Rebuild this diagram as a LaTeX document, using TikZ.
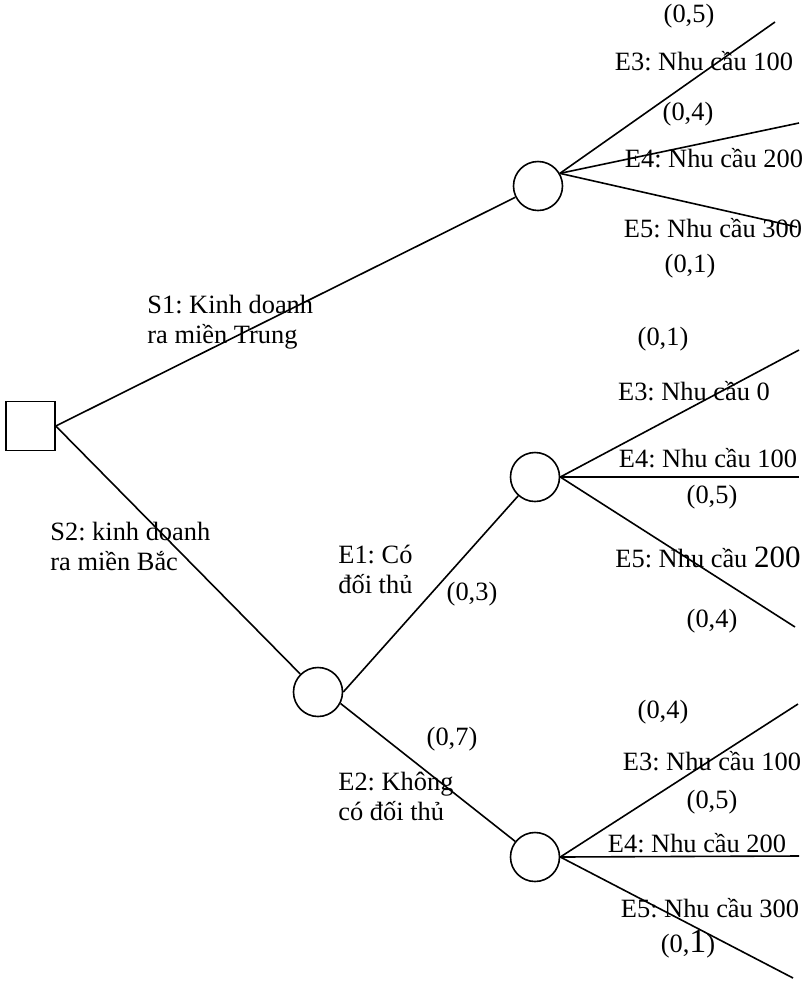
\documentclass[tikz,border=0pt]{standalone}
\usepackage{fontspec}
\setmainfont{Liberation Serif}
\frenchspacing
\tikzset{
	decision/.style={draw, rectangle, minimum size=24.5pt, inner sep=0pt, line width=0.8pt},
	chance/.style={draw, circle, minimum size=24.5pt, inner sep=0pt, line width=0.8pt},
	branch/.style={line width=0.8pt},
	lbl/.style={inner sep=0pt, anchor=base, font=\fontsize{13.2}{15}\selectfont},
	lbll/.style={lbl, anchor=base west, align=left},
}
\begin{document}
\begin{tikzpicture}[x=0.5pt, y=-0.5pt]
	\useasboundingbox (0,0) rectangle (808,981);

	\node[decision] (sq) at (30.5,426) {};
	\node[chance] (c1) at (538,186) {};
	\node[chance] (c2) at (318,692) {};
	\node[chance] (c3) at (535,477) {};
	\node[chance] (c4) at (535,857) {};

	\coordinate (t1) at (775,22);
	\coordinate (m1) at (799,123);
	\coordinate (b1) at (797,227);
	\coordinate (t3) at (799,350);
	\coordinate (m3) at (799,477);
	\coordinate (b3) at (795,627);
	\coordinate (t4) at (798,704);
	\coordinate (m4) at (799,856);
	\coordinate (b4) at (793,978);

	\draw[branch] (sq.east) -- (c1);
	\draw[branch] (sq.east) -- (c2);
	\draw[branch] (c2.east) -- (c3);
	\draw[branch] (c2.-27) -- (c4);
	\foreach \e in {t1,m1,b1}{
	   \draw[branch] (c1.30) -- (\e);
	}
	\foreach \e in {t3,m3,b3}{
	   \draw[branch] (c3.east) -- (\e);
	}
	\foreach \e in {t4,m4,b4}{
	   \draw[branch] (c4.east) -- (\e);
	}

	\node[lbll] (s1) at (147,343) {S1: Kinh doanh\\ra miền Trung};
	\node[lbll] (s2) at (50,570) {S2: kinh doanh\\ra miền Bắc};
	\node[lbll] (e1) at (338,593) {E1: Có\\đối thủ};
	\node[lbll] (e2) at (338,820) {E2: Không\\có đối thủ};
	\node[lbl] (p1) at (472,600) {(0,3)};
	\node[lbl] (p2) at (452,745) {(0,7)};

	\node[lbl] (p13) at (689,22) {(0,5)};
	\node[lbl] (e13) at (704,70) {E3: Nhu cầu 100};
	\node[lbl] (p14) at (688,120) {(0,4)};
	\node[lbl] (e14) at (714,167) {E4: Nhu cầu 200};
	\node[lbl] (e15) at (713,237) {E5: Nhu cầu 300};
	\node[lbl] (p15) at (690,272) {(0,1)};

	\node[lbl] (p33) at (663,345) {(0,1)};
	\node[lbl] (e33) at (694,400) {E3: Nhu cầu 0};
	\node[lbl] (e34) at (708,467) {E4: Nhu cầu 100};
	\node[lbl] (p34) at (712,503) {(0,5)};
	\node[lbl] (e35) at (708,567) {E5: Nhu cầu {\fontsize{15.5}{15}\selectfont 200}};
	\node[lbl] (p35) at (712,627) {(0,4)};

	\node[lbl] (p43) at (663,718) {(0,4)};
	\node[lbl] (e43) at (712,770) {E3: Nhu cầu 100};
	\node[lbl] (p44) at (712,808) {(0,5)};
	\node[lbl] (e44) at (697,852) {E4: Nhu cầu 200};
	\node[lbl] (e45) at (710,917) {E5: Nhu cầu 300};
	\node[lbl] (p45) at (688,952) {(0,{\fontsize{17}{15}\selectfont 1})};
\end{tikzpicture}
\end{document}
